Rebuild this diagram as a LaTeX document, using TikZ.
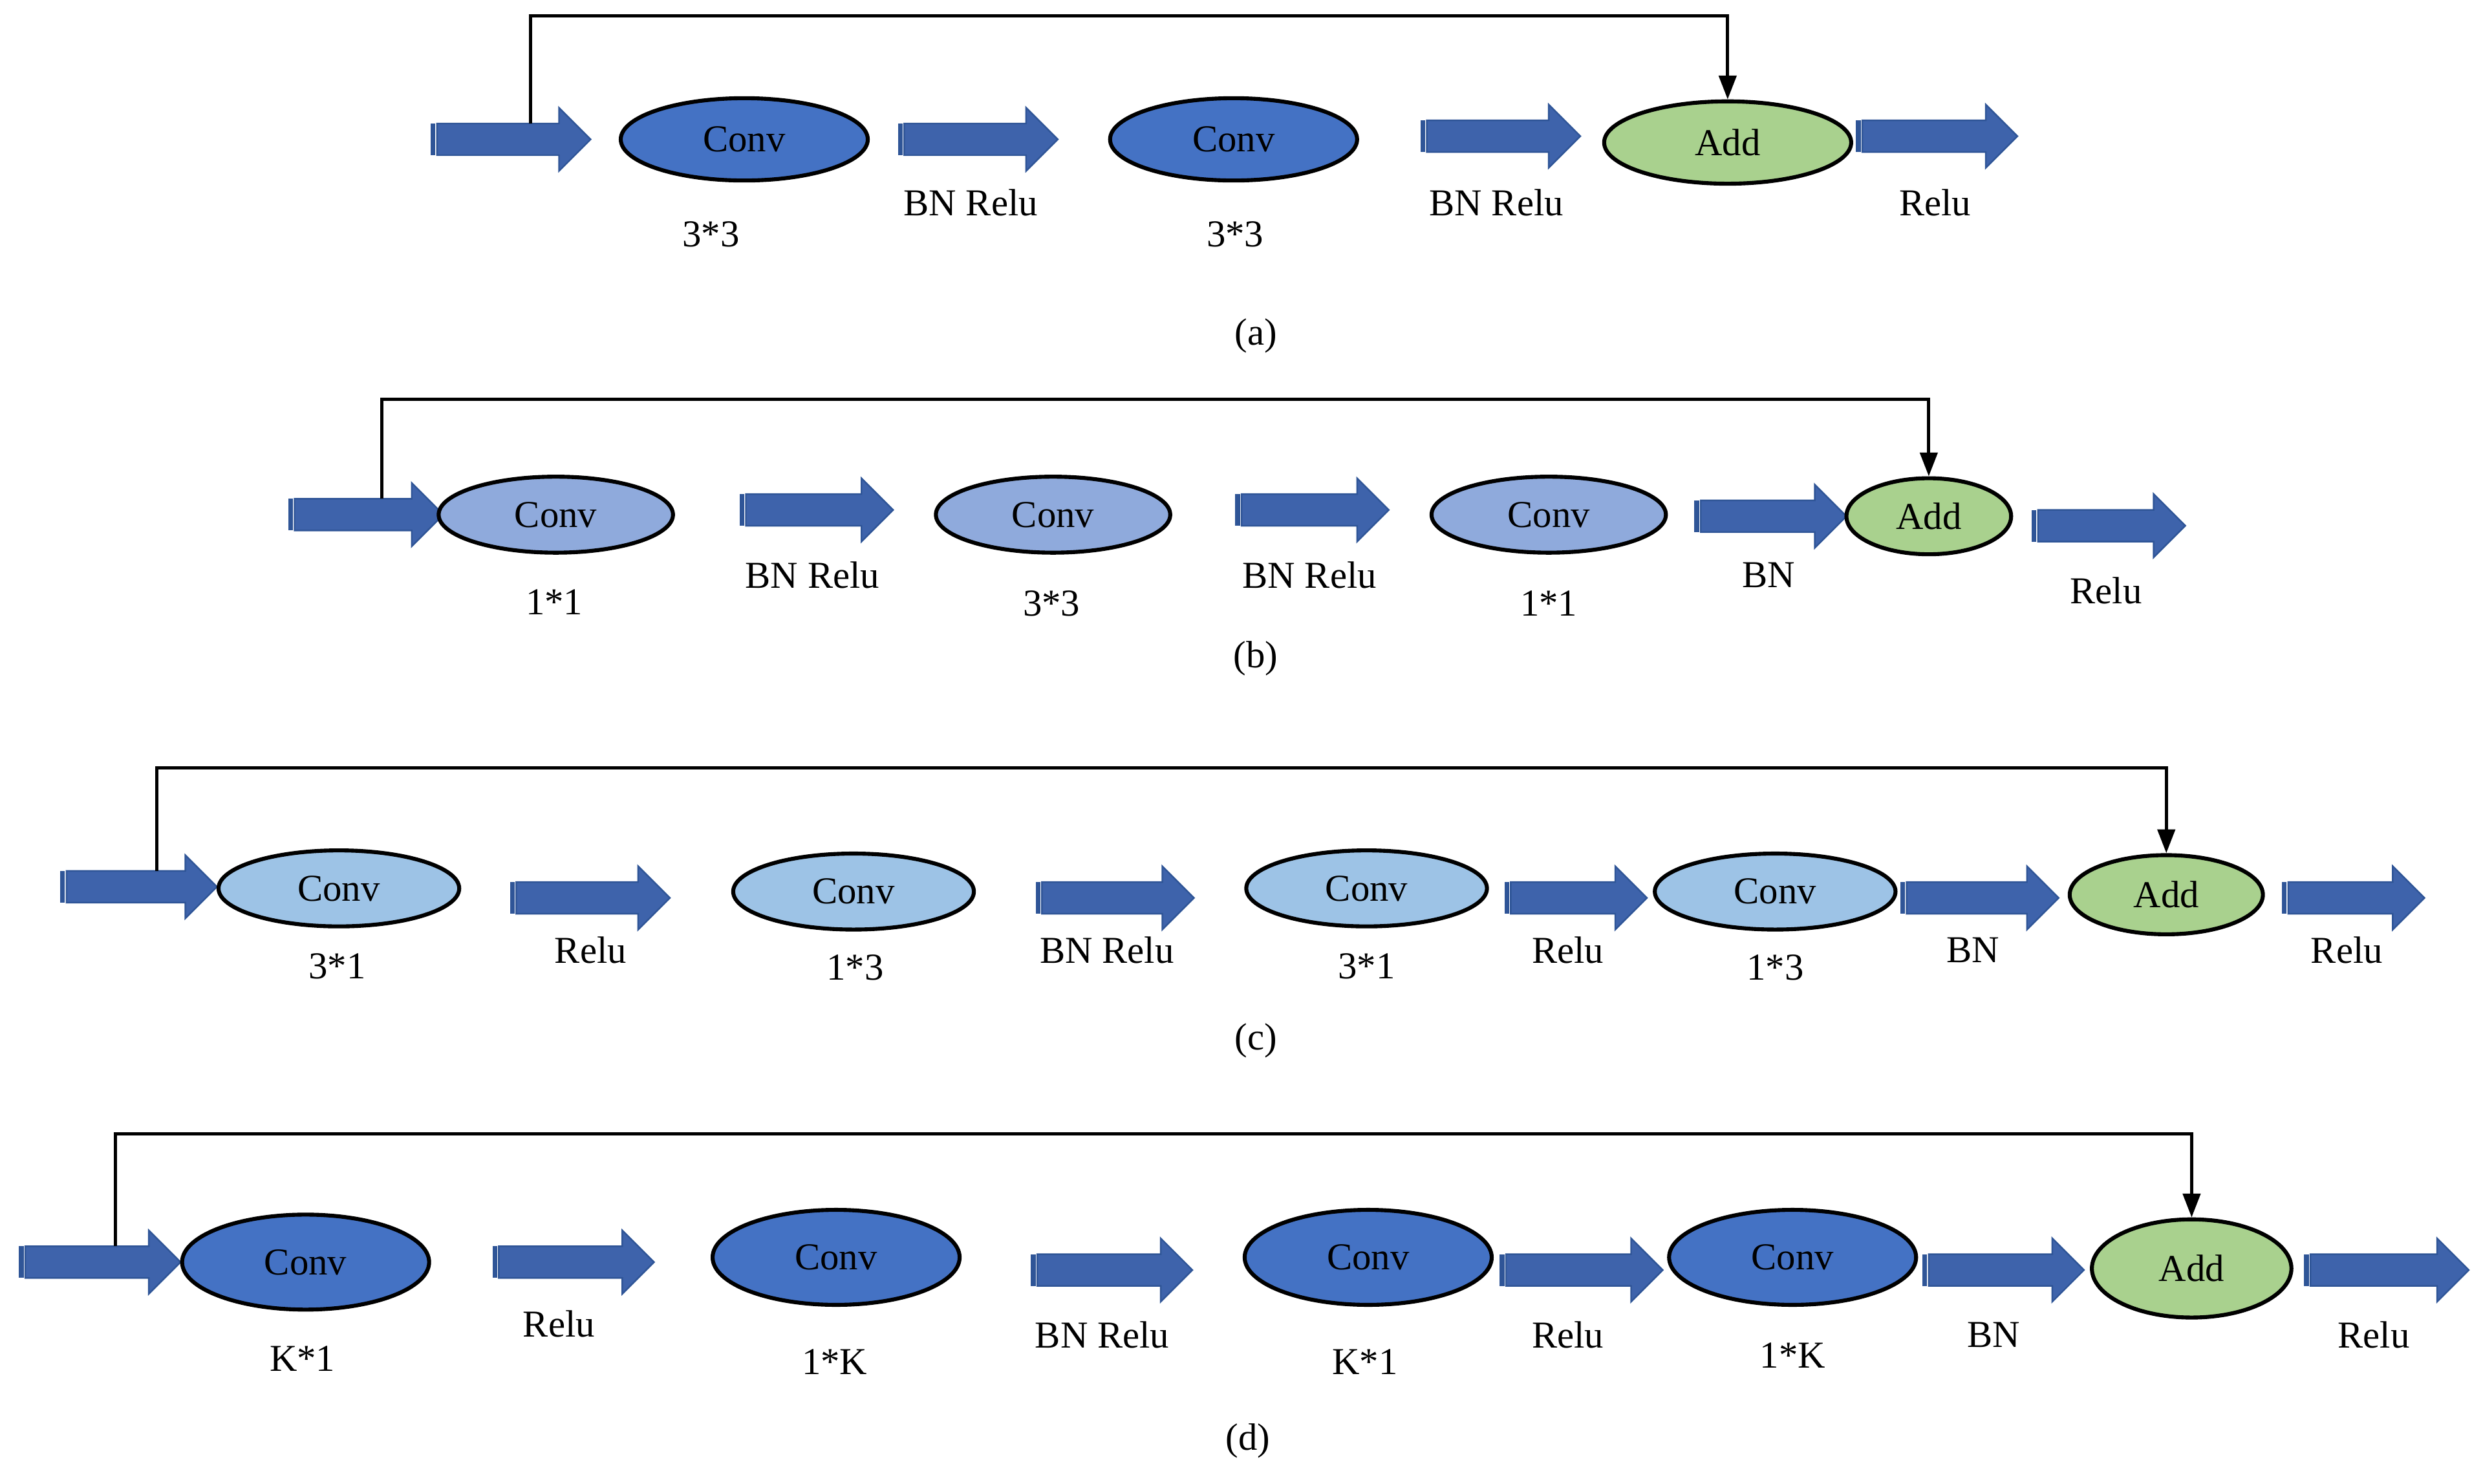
\documentclass[tikz,border=0pt]{standalone}
\usepackage{fontspec}
\setmainfont{Liberation Serif}
\usetikzlibrary{shapes.geometric,arrows.meta}
\definecolor{convdark}{HTML}{4472C4}
\definecolor{convmid}{HTML}{8FAADC}
\definecolor{convlight}{HTML}{9DC3E6}
\definecolor{addgreen}{HTML}{A9D18E}
\definecolor{arrfill}{HTML}{3E63AB}
\definecolor{arrline}{HTML}{2F5597}
\newcommand{\blkarrow}[4]{% name, x start, x end, y
  \fill[arrline] (#2,#4-10) rectangle (#2+3,#4+10);
  \filldraw[fill=arrfill, draw=arrline, line width=0.5pt]
    (#2+4,#4-10) -- (#3-20,#4-10) -- (#3-20,#4-20) -- (#3,#4) --
    (#3-20,#4+20) -- (#3-20,#4+10) -- (#2+4,#4+10) -- cycle;
  \coordinate (#1) at (#2,#4);
}
\tikzset{
  op/.style={ellipse, draw=black, line width=1.25pt, inner sep=0pt, font=\fontsize{12}{14}\selectfont},
  lbl/.style={inner sep=0pt, font=\fontsize{12}{14}\selectfont},
  skipline/.style={draw=black, line width=1pt, -{Triangle[length=7.5pt,width=5.5pt]}},
}
\begin{document}
\begin{tikzpicture}[x=0.5pt,y=-0.5pt]
\path[use as bounding box, fill=white] (0,0) rectangle (1568,937);

% ---------- (a)
\blkarrow{ia}{272}{373}{88}
\node[op, fill=convdark, minimum width=78pt, minimum height=26pt] (a1) at (470,88) {Conv};
\node[lbl] (a1l) at (449,148) {3*3};
\blkarrow{aa1}{567}{668}{88}
\node[lbl] (aa1l) at (613,128) {BN Relu};
\node[op, fill=convdark, minimum width=78pt, minimum height=26pt] (a2) at (779,88) {Conv};
\node[lbl] (a2l) at (780,148) {3*3};
\blkarrow{aa2}{897}{998}{86}
\node[lbl] (aa2l) at (945,128) {BN Relu};
\node[op, fill=addgreen, minimum width=78pt, minimum height=26pt] (adda) at (1091,90) {Add};
\blkarrow{aa3}{1172}{1274}{86}
\node[lbl] (aa3l) at (1222,128) {Relu};
\node[lbl] (capa) at (793,212) {(a)};
\coordinate (sa) at (335,78);
\coordinate (ya) at (0,10);
\draw[skipline] (sa) |- (adda.north |- ya) -- (adda.north);

% ---------- (b)
\blkarrow{ib}{182}{280}{325}
\node[op, fill=convmid, minimum width=74pt, minimum height=24pt] (b1) at (351,325) {Conv};
\node[lbl] (b1l) at (350,380) {1*1};
\blkarrow{ba1}{467}{564}{322}
\node[lbl] (ba1l) at (513,363) {BN Relu};
\node[op, fill=convmid, minimum width=74pt, minimum height=24pt] (b2) at (665,325) {Conv};
\node[lbl] (b2l) at (664,381) {3*3};
\blkarrow{ba2}{780}{877}{322}
\node[lbl] (ba2l) at (827,363) {BN Relu};
\node[op, fill=convmid, minimum width=74pt, minimum height=24pt] (b3) at (978,325) {Conv};
\node[lbl] (b3l) at (978,381) {1*1};
\blkarrow{ba3}{1070}{1166}{326}
\node[lbl] (ba3l) at (1117,363) {BN};
\node[op, fill=addgreen, minimum width=52pt, minimum height=24pt] (addb) at (1218,326) {Add};
\blkarrow{ba4}{1283}{1380}{332}
\node[lbl] (ba4l) at (1330,373) {Relu};
\node[lbl] (capb) at (793,416) {(b)};
\coordinate (sb) at (241,315);
\coordinate (yb) at (0,252);
\draw[skipline] (sb) |- (addb.north |- yb) -- (addb.north);

% ---------- (c)
\blkarrow{ic}{38}{137}{560}
\node[op, fill=convlight, minimum width=76pt, minimum height=24pt] (c1) at (214,561) {Conv};
\node[lbl] (c1l) at (213,610) {3*1};
\blkarrow{ca1}{322}{423}{567}
\node[lbl] (ca1l) at (373,600) {Relu};
\node[op, fill=convlight, minimum width=76pt, minimum height=24pt] (c2) at (539,563) {Conv};
\node[lbl] (c2l) at (540,611) {1*3};
\blkarrow{ca2}{654}{754}{567}
\node[lbl] (ca2l) at (699,600) {BN Relu};
\node[op, fill=convlight, minimum width=76pt, minimum height=24pt] (c3) at (863,561) {Conv};
\node[lbl] (c3l) at (863,610) {3*1};
\blkarrow{ca3}{950}{1040}{567}
\node[lbl] (ca3l) at (990,600) {Relu};
\node[op, fill=convlight, minimum width=76pt, minimum height=24pt] (c4) at (1121,563) {Conv};
\node[lbl] (c4l) at (1121,611) {1*3};
\blkarrow{ca4}{1200}{1300}{567}
\node[lbl] (ca4l) at (1246,600) {BN};
\node[op, fill=addgreen, minimum width=61pt, minimum height=25pt] (addc) at (1368,565) {Add};
\blkarrow{ca5}{1441}{1531}{567}
\node[lbl] (ca5l) at (1482,600) {Relu};
\node[lbl] (capc) at (793,657) {(c)};
\coordinate (sc) at (99,550);
\coordinate (yc) at (0,485);
\draw[skipline] (sc) |- (addc.north |- yc) -- (addc.north);

% ---------- (d)
\blkarrow{id}{12}{114}{797}
\node[op, fill=convdark, minimum width=78pt, minimum height=30pt] (d1) at (193,797) {Conv};
\node[lbl] (d1l) at (191,858) {K*1};
\blkarrow{da1}{311}{413}{797}
\node[lbl] (da1l) at (353,836) {Relu};
\node[op, fill=convdark, minimum width=78pt, minimum height=30pt] (d2) at (528,794) {Conv};
\node[lbl] (d2l) at (527,860) {1*K};
\blkarrow{da2}{651}{753}{802}
\node[lbl] (da2l) at (696,843) {BN Relu};
\node[op, fill=convdark, minimum width=78pt, minimum height=30pt] (d3) at (864,794) {Conv};
\node[lbl] (d3l) at (862,860) {K*1};
\blkarrow{da3}{947}{1050}{802}
\node[lbl] (da3l) at (990,843) {Relu};
\node[op, fill=convdark, minimum width=78pt, minimum height=30pt] (d4) at (1132,794) {Conv};
\node[lbl] (d4l) at (1132,856) {1*K};
\blkarrow{da4}{1214}{1316}{802}
\node[lbl] (da4l) at (1259,843) {BN};
\node[op, fill=addgreen, minimum width=63pt, minimum height=31pt] (addd) at (1384,801) {Add};
\blkarrow{da5}{1455}{1559}{802}
\node[lbl] (da5l) at (1499,843) {Relu};
\node[lbl] (capd) at (788,910) {(d)};
\coordinate (sd) at (73,787);
\coordinate (yd) at (0,716);
\draw[skipline] (sd) |- (addd.north |- yd) -- (addd.north);
\end{tikzpicture}
\end{document}
